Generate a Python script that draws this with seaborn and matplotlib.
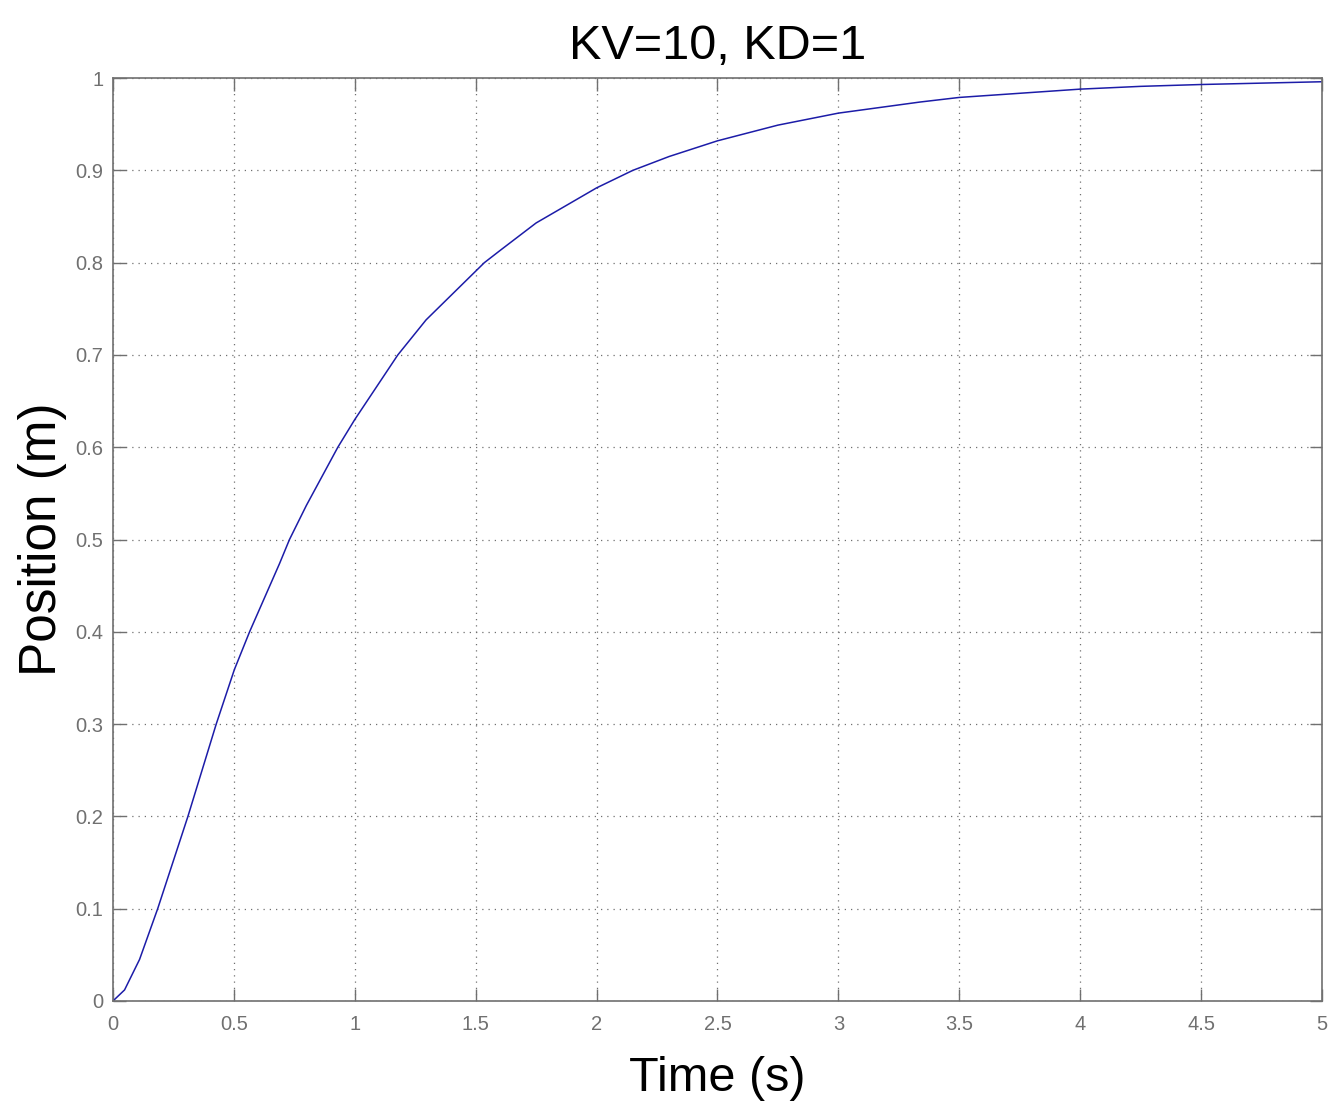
import matplotlib
matplotlib.use("Agg")
import matplotlib.pyplot as plt
import seaborn as sns
import pandas as pd
from matplotlib.ticker import FuncFormatter

# values (step response)
time_s = [0, 0.048, 0.11, 0.185, 0.31, 0.427, 0.502, 0.565, 0.689, 0.73, 0.8,
          0.93, 1.0, 1.178, 1.295, 1.536, 1.605, 1.75, 2.0, 2.15, 2.3, 2.5,
          2.75, 3.0, 3.337, 3.5, 4.0, 4.25, 4.5, 5.0]
position_m = [0, 0.012, 0.045, 0.1, 0.2, 0.3, 0.359, 0.4, 0.474, 0.5, 0.537,
              0.6, 0.63, 0.7, 0.738, 0.8, 0.814, 0.843, 0.881, 0.9, 0.915, 0.932,
              0.949, 0.962, 0.974, 0.979, 0.988, 0.991, 0.993, 0.996]

x_ticks = [0, 0.5, 1, 1.5, 2, 2.5, 3, 3.5, 4, 4.5, 5]
y_ticks = [0, 0.1, 0.2, 0.3, 0.4, 0.5, 0.6, 0.7, 0.8, 0.9, 1]

sns.set_theme(style="white")
plt.rcParams['font.family'] = ['Liberation Sans', 'DejaVu Sans']

df = pd.DataFrame({'t': time_s, 'x': position_m})

fig = plt.figure(figsize=(13.32, 11.04), dpi=100, facecolor='white')
ax = fig.add_axes([0.0848, 0.0933, 0.9077, 0.836])

sns.lineplot(data=df, x='t', y='x', ax=ax, color='#1c1ca8', linewidth=1.1,
             sort=False, estimator=None)

ax.set_xlim(0, 5)
ax.set_ylim(0, 1)
ax.set_xticks(x_ticks)
ax.set_yticks(y_ticks)
fmt = FuncFormatter(lambda v, p: f'{v:g}')
ax.xaxis.set_major_formatter(fmt)
ax.yaxis.set_major_formatter(fmt)

# MATLAB-like look: dotted grid, inward ticks on all sides, grey frame
ax.grid(True, linestyle=(0, (1, 4)), color='#707070', linewidth=0.9)
ax.tick_params(direction='in', length=9, width=1, colors='#707070',
               labelsize=14.5, top=True, right=True, bottom=True, left=True)
ax.tick_params(axis='x', pad=10)
ax.tick_params(axis='y', pad=7)
for s in ax.spines.values():
    s.set_color('#707070')
    s.set_linewidth(1.2)

ax.set_title('KV=10, KD=1', fontsize=35, pad=14, color='black')
ax.set_xlabel('Time (s)', fontsize=35, labelpad=16, color='black')
ax.set_ylabel('Position (m)', fontsize=37, labelpad=6, color='black')

fig.savefig('out.png', dpi=100, facecolor='white')
plt.close(fig)
